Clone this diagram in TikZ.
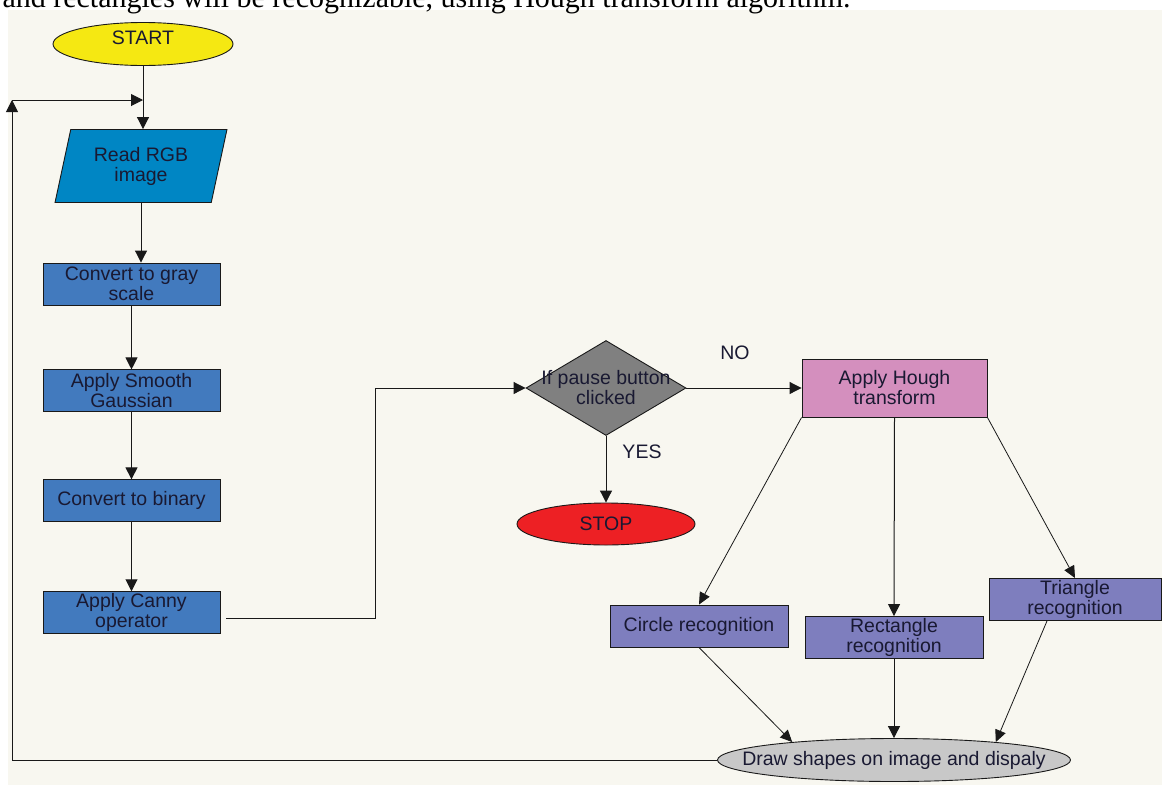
\documentclass[tikz,border=0pt]{standalone}
\usepackage{fontspec}
\setmainfont{Liberation Sans}
\newfontfamily\captionserif{Liberation Serif}
\usetikzlibrary{shapes.geometric, arrows.meta, positioning}
\definecolor{pagebg}{RGB}{248,247,240}
\definecolor{txtcol}{RGB}{25,25,50}
\definecolor{startyellow}{RGB}{245,232,18}
\definecolor{readblue}{RGB}{0,134,196}
\definecolor{stepblue}{RGB}{66,122,190}
\definecolor{stopred}{RGB}{237,32,36}
\definecolor{houghpink}{RGB}{212,143,190}
\definecolor{recogviolet}{RGB}{126,126,190}
\definecolor{showgray}{RGB}{200,200,200}

\begin{document}
\begin{tikzpicture}[x=1pt, y=-1pt,
    lbl/.style={align=center, text=txtcol, font=\fontsize{19.5}{20}\selectfont},
    proc/.style={lbl, draw=black!90, line width=0.9pt, minimum width=177pt, minimum height=42pt, inner sep=1pt},
    term/.style={lbl, draw=black!90, line width=0.9pt, ellipse, minimum width=180pt, minimum height=43pt, inner sep=0pt},
    arr/.style={-{Triangle[length=12pt, width=12pt]}, line width=1pt, black!90},
    darr/.style={-{Triangle[length=12pt, width=11pt]}, line width=0.8pt, black!90}
]
    \useasboundingbox (0,0) rectangle (1162,785);
    \fill[white] (0,0) rectangle (1162,785);
    \fill[pagebg] (8,10) rectangle (1162,785);
    \node[anchor=base west, font=\captionserif\fontsize{30}{30}\selectfont] (caption) at (-1,7) {and rectangles will be recognizable, using Hough transform algorithm.};

    % left column
    \node[term, fill=startyellow] (start) at (143,44) {\raisebox{13pt}{START}};
    \node[lbl, trapezium, trapezium left angle=75, trapezium right angle=105, trapezium stretches=true, draw=black!90, line width=0.9pt, fill=readblue, minimum width=172pt, minimum height=73pt, inner sep=1pt] (rgb) at (141,166) {Read RGB\\image};
    \node[proc, fill=stepblue] (gray) at (131.5,284) {Convert to gray\\scale};
    \node[proc, fill=stepblue, below=64pt of gray] (smooth) {Apply Smooth\\Gaussian};
    \node[proc, fill=stepblue, below=67pt of smooth] (binary) {Convert to binary};
    \node[proc, fill=stepblue, below=69pt of binary] (canny) {Apply Canny\\operator};

    % decision
    \node[diamond, draw=black!90, line width=0.9pt, fill=gray!100, minimum width=160pt, minimum height=95pt, inner sep=0pt] (pause) at (606,388) {};
    \node[lbl] (pausetxt) at (pause) {If pause button\\clicked};
    \node[term, fill=stopred, minimum width=178pt, minimum height=42pt] (stop) at (606,524) {STOP};
    \node[lbl] (no) at (735,353) {NO};
    \node[lbl] (yes) at (642,452) {YES};

    % hough branch
    \node[proc, fill=houghpink, minimum width=185pt, minimum height=58pt] (hough) at (894.5,388) {Apply Hough\\transform};
    \node[proc, fill=recogviolet, minimum width=178pt] (circle) at (699,626) {Circle recognition};
    \node[proc, fill=recogviolet, minimum width=178pt] (rectrec) at (894,637.5) {Rectangle\\recognition};
    \node[proc, fill=recogviolet, minimum width=172pt] (trirec) at (1075,599.5) {Triangle\\recognition};
    \node[term, fill=showgray, minimum width=353pt, minimum height=43pt] (show) at (894,760) {};
    \node[lbl] (showtxt) at (show) {Draw shapes on image and dispaly};

    \coordinate (back) at (12,100);

    \draw[arr] (start.south) -- (start.south |- rgb.north);
    \draw[arr] (rgb.south) -- (rgb.south |- gray.north);
    \draw[arr] (gray) -- (smooth);
    \draw[arr] (smooth) -- (binary);
    \draw[arr] (binary) -- (canny);
    \draw[arr] ([xshift=6pt, yshift=-6pt]canny.east) -- ++(149,0) |- (pause.west);
    \draw[arr] (pause.east) -- (hough.west);
    \draw[arr] (pause.south) -- (stop.north);
    \draw[darr] (hough.south west) -- (circle.north);
    \draw[arr] (hough.south) -- (rectrec.north);
    \draw[darr] (hough.south east) -- (trirec.north);
    \draw[darr] (circle.south) -- (show.170);
    \draw[arr] (rectrec.south) -- (show.north);
    \draw[darr] ([xshift=-28pt]trirec.south) -- (show.10);
    \draw[arr] (show.west) -| (back);
    \draw[arr] (back) -- (back -| start);
\end{tikzpicture}
\end{document}
